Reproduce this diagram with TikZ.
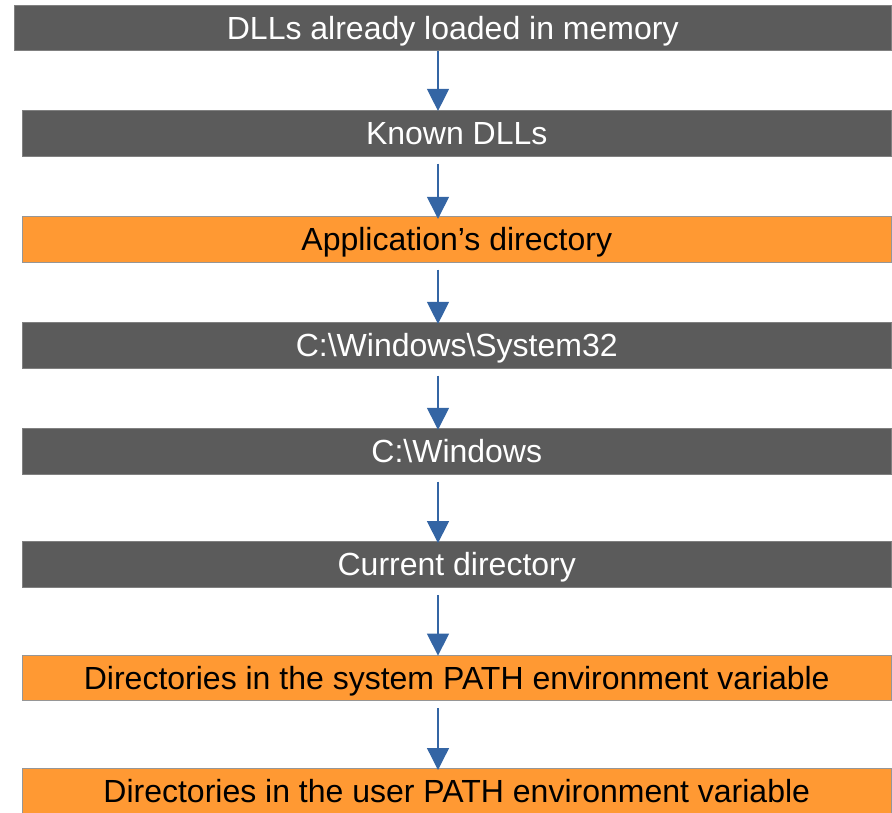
\documentclass[tikz,border=0pt]{standalone}
\usepackage{fontspec}
\setmainfont{Liberation Sans}
\usetikzlibrary{arrows.meta}
\definecolor{boxgray}{RGB}{91,91,91}
\definecolor{edgegray}{RGB}{128,128,128}
\definecolor{boxorange}{RGB}{255,153,51}
\definecolor{edgeorange}{RGB}{150,150,150}
\definecolor{arrblue}{RGB}{52,101,164}
\tikzset{
  stage/.style={rectangle, inner sep=0pt, minimum height=45.8pt, line width=1pt,
    font=\fontsize{32pt}{38pt}\selectfont, text height=22.9pt, text depth=0pt},
  graybox/.style={stage, fill=boxgray, draw=edgegray, text=white},
  orangebox/.style={stage, fill=boxorange, draw=edgeorange, text=black},
  wide/.style={minimum width=877.5pt},
  narrow/.style={minimum width=869.5pt},
  arr/.style={draw=arrblue, line width=1.3pt, -{Triangle[length=22pt,width=22pt]}, arrblue}
}
\begin{document}
\begin{tikzpicture}[x=1pt,y=-1pt]
\useasboundingbox (0,0) rectangle (892,812);
\clip (0,0) rectangle (892,812);
\node[graybox, wide] (b1) at (452.75,27.9) {DLLs already loaded in memory};
\node[graybox, narrow] (b2) at (456.75,133.3) {Known DLLs};
\node[orangebox, narrow] (b3) at (456.75,239.2) {Application’s directory};
\node[graybox, narrow] (b4) at (456.75,345.3) {C:\textbackslash Windows\textbackslash System32};
\node[graybox, narrow] (b5) at (456.75,451.2) {C:\textbackslash Windows};
\node[graybox, narrow] (b6) at (456.75,564.5) {Current directory};
\node[orangebox, narrow] (b7) at (456.75,678) {Directories in the system PATH environment variable};
\node[orangebox, narrow] (b8) at (456.75,791.4) {Directories in the user PATH environment variable};
\coordinate (ax) at (438,0);
\draw[arr] (b1.south -| ax) -- ([yshift=-1pt]b2.north -| ax);
\draw[arr] ([yshift=-7pt]b2.south -| ax) -- ([yshift=-3pt]b3.north -| ax);
\draw[arr] ([yshift=-7pt]b3.south -| ax) -- ([yshift=-2pt]b4.north -| ax);
\draw[arr] ([yshift=-7pt]b4.south -| ax) -- ([yshift=-2pt]b5.north -| ax);
\draw[arr] ([yshift=-7pt]b5.south -| ax) -- ([yshift=-2pt]b6.north -| ax);
\draw[arr] ([yshift=-7pt]b6.south -| ax) -- ([yshift=-1pt]b7.north -| ax);
\draw[arr] ([yshift=-7pt]b7.south -| ax) -- ([yshift=-2pt]b8.north -| ax);
\end{tikzpicture}
\end{document}
